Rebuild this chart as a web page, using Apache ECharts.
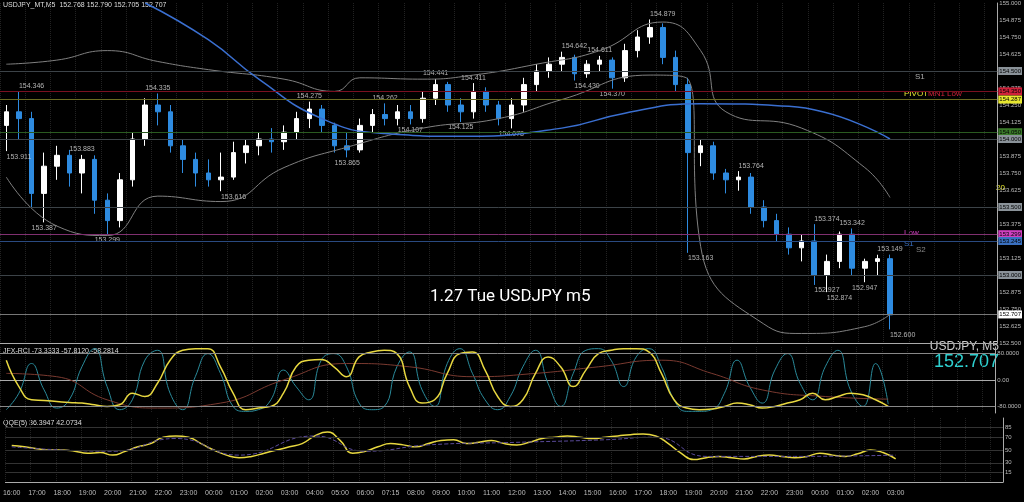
<!DOCTYPE html>
<html><head><meta charset="utf-8">
<script src="https://cdn.jsdelivr.net/npm/echarts@6/dist/echarts.min.js"></script>
<style>html,body{margin:0;background:#000}#c{width:1024px;height:502px}</style>
</head><body><div id="c"></div>
<script>
const times=["16:00","16:30","17:00","17:30","18:00","18:30","19:00","19:30","20:00","20:30","21:00","21:30","22:00","22:30","23:00","23:30","00:00","00:30","01:00","01:30","02:00","02:30","03:00","03:30","04:00","04:30","05:00","05:30","06:00","06:30","07:15","07:30","08:00","08:30","09:00","09:30","10:00","10:30","11:00","11:30","12:00","12:30","13:00","13:30","14:00","14:30","15:00","15:30","16:00","16:30","17:00","17:30","18:00","18:30","19:00","19:30","20:00","20:30","21:00","21:30","22:00","22:30","23:00","23:30","00:00","00:30","01:00","01:30","02:00","02:30","03:00","","","","","","","",""];
// [open, close, low, high]
const ohlc=[
[154.10,154.20,153.911,154.25],[154.20,154.15,154.00,154.346],[154.15,153.60,153.50,154.20],[153.60,153.80,153.387,153.90],
[153.80,153.88,153.70,153.95],[153.88,153.75,153.65,153.92],[153.75,153.85,153.60,153.883],[153.85,153.55,153.45,153.88],
[153.55,153.40,153.299,153.60],[153.40,153.70,153.35,153.75],[153.70,154.00,153.65,154.05],[154.00,154.25,153.95,154.30],
[154.25,154.20,154.10,154.335],[154.20,153.95,153.90,154.25],[153.95,153.85,153.75,154.00],[153.85,153.75,153.65,153.90],
[153.75,153.70,153.65,153.85],[153.70,153.72,153.616,153.90],[153.72,153.90,153.70,153.98],[153.90,153.95,153.82,154.00],
[153.95,154.00,153.88,154.05],[154.00,153.98,153.90,154.08],[153.98,154.05,153.92,154.10],[154.05,154.15,154.00,154.20],
[154.15,154.22,154.08,154.275],[154.22,154.10,154.05,154.25],[154.10,153.95,153.90,154.12],[153.95,153.92,153.865,154.05],
[153.92,154.10,153.90,154.15],[154.10,154.18,154.05,154.22],[154.18,154.15,154.10,154.262],[154.15,154.20,154.10,154.25],
[154.20,154.15,154.107,154.25],[154.15,154.30,154.12,154.35],[154.30,154.40,154.25,154.441],[154.40,154.25,154.20,154.42],
[154.25,154.20,154.125,154.30],[154.20,154.35,154.15,154.411],[154.35,154.25,154.20,154.38],[154.25,154.15,154.10,154.28],
[154.15,154.25,154.078,154.30],[154.25,154.40,154.20,154.45],[154.40,154.50,154.35,154.55],[154.50,154.55,154.45,154.60],
[154.55,154.60,154.50,154.642],[154.60,154.48,154.430,154.62],[154.48,154.55,154.45,154.58],[154.55,154.58,154.50,154.611],
[154.58,154.45,154.370,154.60],[154.45,154.65,154.42,154.70],[154.65,154.75,154.60,154.80],[154.75,154.82,154.70,154.879],
[154.82,154.60,154.55,154.85],[154.60,154.40,154.35,154.65],[154.40,153.90,153.163,154.45],[153.90,153.95,153.80,154.00],
[153.95,153.75,153.70,153.98],[153.75,153.70,153.60,153.78],[153.70,153.72,153.62,153.764],[153.72,153.50,153.45,153.75],
[153.50,153.40,153.35,153.55],[153.40,153.30,153.25,153.45],[153.30,153.20,153.15,153.35],[153.20,153.25,153.10,153.30],
[153.25,153.00,152.927,153.374],[153.00,153.10,152.874,153.15],[153.10,153.30,153.05,153.32],[153.30,153.05,153.00,153.342],
[153.05,153.10,152.947,153.12],[153.10,153.12,153.00,153.149],[153.12,152.707,152.600,153.15]];
const upperBand=[[0,154.55],[4,154.58],[8,154.65],[11.5,154.57],[15.5,154.51],[22,154.44],[25.9,154.35],[27.5,154.45],[33,154.44],[37,154.47],[41.8,154.55],[47.4,154.65],[52,154.86],[54.5,154.65],[57,154.2],[63.3,154.08],[68,153.79],[70,153.57]];
const lowerBand=[[0,153.72],[3.6,153.36],[7.6,153.29],[12.3,153.58],[17.1,153.54],[21.9,153.79],[26.7,153.94],[33,154.08],[39.4,154.15],[44.2,154.29],[50.6,154.47],[53.7,154.44],[55.3,153.21],[60.1,152.64],[63.3,152.57],[68,152.62],[70,152.71]];
const blueMA=[[10.7,155.0],[15.5,154.73],[20.3,154.44],[25.1,154.15],[29.9,154.04],[36.2,154.02],[44.2,154.08],[49,154.19],[54.5,154.26],[61.7,154.24],[70,154.0]];
const swingLabels=[[1.2,153.911,"b"],[1.8,154.346,"t"],[3.2,153.387,"b"],[6.4,153.883,"t"],[8.2,153.299,"b"],[12.3,154.335,"t"],[17.8,153.616,"b"],[24.3,154.275,"t"],[26.7,153.865,"b"],[30,154.262,"t"],[32.2,154.107,"b"],[34.2,154.441,"t"],[36.2,154.125,"b"],[37.4,154.411,"t"],[39.8,154.078,"b"],[44.6,154.642,"t"],[45.8,154.430,"b"],[47.4,154.611,"t"],[48,154.370,"b"],[51.7,154.879,"t"],[54.5,153.163,"b"],[58.5,153.764,"t"],[64.5,153.374,"t"],[64.5,152.927,"b"],[65.5,152.874,"b"],[67,153.342,"t"],[68,152.947,"b"],[69.7,153.149,"t"],[70.7,152.600,"b"]];
const levels=[[154.500,"#3c4348","#8a9299",""],[154.350,"#7a1020","#d0213a",""],[154.287,"#6a6a20","#e8e830",""],[154.050,"#2a5a20","#3a7a2a",""],[154.000,"#3c4348","#8a9299",""],[153.500,"#3c4348","#8a9299",""],[153.299,"#803070","#d040c0",""],[153.245,"#2a4a80","#3a70c0",""],[153.000,"#3c4348","#8a9299",""],[152.707,"#777777","#ffffff",""]];
const rciYellow=[60,-20,-60,-62,-65,-68,-70,-75,-80,-75,-40,-50,-10,60,90,95,95,40,-40,-90,-85,-80,-40,40,60,62,40,10,70,85,90,80,-20,-70,-60,20,80,85,30,-50,-80,-60,20,70,40,-20,30,80,90,95,95,85,20,-60,-85,-90,-88,-80,-70,-75,-85,-80,-70,-60,-40,-60,-50,-40,-45,-60,-80];
const rciTeal=[-90,-40,50,-30,-85,-60,40,95,-20,-90,-60,60,90,-40,-90,10,80,20,-80,-95,-90,-60,30,-20,-60,60,80,40,-70,-90,-80,40,85,-30,-80,50,95,20,-60,-90,-50,40,90,-10,-80,20,90,95,60,-20,70,95,40,-60,-95,-95,-90,-40,60,-20,-70,30,80,-10,-60,40,90,-30,-80,50,-73];
const rciBrown=[[0,20],[4,10],[8,-60],[12,-85],[17,-70],[22,0],[27,50],[32,40],[37,10],[42,20],[47,40],[52,60],[56,20],[60,-30],[65,-50],[70,-58]];
const qqeYellow=[57,55,52,50,50,48,45,46,42,48,55,60,70,72,70,60,50,42,38,40,45,50,55,60,72,78,65,45,48,55,60,58,55,60,65,66,60,62,65,60,58,62,68,70,72,70,68,70,72,74,75,72,60,45,35,38,40,38,36,40,42,40,38,40,45,42,40,44,50,46,36];
const qqeSignal=[[0,55],[8,48],[13,68],[18,42],[24,72],[28,48],[33,58],[40,62],[47,66],[51,70],[55,40],[62,40],[70,42]];

const chart=echarts.init(document.getElementById('c'));
const xBase=(gi,show)=>({type:'category',data:times,gridIndex:gi,boundaryGap:true,
  axisLine:{lineStyle:{color:'#aaa'}},axisTick:{show:false},
  axisLabel:{show:show,color:'#bbb',fontSize:7,interval:1},
  splitLine:{show:true,interval:1,lineStyle:{color:'#222',type:'dotted'}}});
const lineS=(data,color,xi,yi,w,type)=>({type:'line',data:data,xAxisIndex:xi,yAxisIndex:yi,symbol:'none',smooth:true,lineStyle:{color:color,width:w||1,type:type||'solid'},silent:true});
chart.setOption({
  backgroundColor:'#000',animation:false,
  grid:[{left:0,right:21,top:2,height:341},{left:0,right:21,top:347,height:66},{left:0,right:21,top:418,height:64}],
  xAxis:[xBase(0,false),xBase(1,false),xBase(2,true)],
  yAxis:[
    {type:'value',gridIndex:0,position:'right',min:152.5,max:155.0,interval:0.125,
     axisLine:{show:true,lineStyle:{color:'#aaa'}},axisLabel:{color:'#bbb',fontSize:6,margin:2,formatter:v=>v.toFixed(3)},splitLine:{show:false}},
    {type:'value',gridIndex:1,position:'right',min:-100,max:100,interval:20,
     axisLine:{show:true,lineStyle:{color:'#aaa'}},axisLabel:{color:'#bbb',fontSize:6,margin:2,formatter:v=>v===80?'80.0000':v===-80?'-80.0000':v===0?'0.00':''},
     splitLine:{show:false}},
    {type:'value',gridIndex:2,position:'right',min:0,max:100,interval:5,
     axisLine:{show:true,lineStyle:{color:'#aaa'}},axisLabel:{color:'#bbb',fontSize:6,margin:2,formatter:v=>[15,30,50,70,85].includes(v)?String(v):''},
     splitLine:{show:false}}
  ],
  series:[
    {type:'candlestick',data:ohlc,xAxisIndex:0,yAxisIndex:0,barWidth:'40%',
     itemStyle:{color:'#ffffff',color0:'#2e8be0',borderColor:'#ffffff',borderColor0:'#2e8be0'},
     markLine:{symbol:'none',silent:true,data:levels.map(l=>({yAxis:l[0],lineStyle:{color:l[1],width:1,type:'solid'},
        label:{show:true,position:'end',formatter:l[0].toFixed(3),color:'#000',backgroundColor:l[2],fontSize:6,padding:[1,1],distance:1}}))}},
    lineS(upperBand,'#808080',0,0,1),
    lineS(lowerBand,'#808080',0,0,1),
    lineS(blueMA,'#3a6fd0',0,0,1.5),
    {type:'scatter',data:swingLabels.map(s=>({value:[s[0],s[1]],label:{position:s[2]==='t'?'top':'bottom'}})),xAxisIndex:0,yAxisIndex:0,symbolSize:0,
     label:{show:true,color:'#ddd',fontSize:7,distance:2,formatter:p=>p.value[1].toFixed(3)},silent:true},
    {type:'line',data:rciTeal,xAxisIndex:1,yAxisIndex:1,symbol:'none',smooth:true,lineStyle:{color:'#2a8a9a',width:1},
     markLine:{symbol:'none',silent:true,label:{show:false},lineStyle:{color:'#888',type:'solid',width:1},data:[{yAxis:80},{yAxis:-80}]}},
    lineS(rciBrown,'#7a3a30',1,1,1),
    lineS(rciYellow,'#e8d840',1,1,1.5),
    {type:'line',data:qqeYellow,xAxisIndex:2,yAxisIndex:2,symbol:'none',smooth:true,lineStyle:{color:'#e8d840',width:1.5},
     markLine:{symbol:'none',silent:true,label:{show:false},lineStyle:{color:'#333',type:'solid',width:1},data:[{yAxis:85},{yAxis:70},{yAxis:50},{yAxis:30},{yAxis:15}]}},
    lineS(qqeSignal,'#5a4a9a',2,2,1,'dashed')
  ],
  graphic:[
    {type:'text',left:3,top:2,style:{text:'USDJPY_MT,M5  152.768 152.790 152.705 152.707',fill:'#ddd',fontSize:7}},
    {type:'text',left:430,top:288,style:{text:'1.27 Tue USDJPY m5',fill:'#fff',fontSize:17,fontFamily:'Roboto'}},
    {type:'text',left:3,top:348,style:{text:'JFX-RCI -73.3333 -57.8120 -58.2814',fill:'#ddd',fontSize:7}},
    {type:'text',left:3,top:420,style:{text:'QQE(5) 36.3947 42.0734',fill:'#ddd',fontSize:7}},
    {type:'text',right:25,top:341,style:{text:'USDJPY, M5',fill:'#ccc',fontSize:12,align:'right'}},
    {type:'text',right:25,top:353,style:{text:'152.707',fill:'#2ed0d0',fontSize:18,align:'right'}},
    {type:'text',left:904,top:90,style:{text:'PIVOT',fill:'#e8e830',fontSize:8}},
    {type:'text',left:928,top:90,style:{text:'MN1 Low',fill:'#d0213a',fontSize:8}},
    {type:'text',left:915,top:73,style:{text:'S1',fill:'#aaa',fontSize:8}},
    {type:'text',left:904,top:229,style:{text:'Low',fill:'#d040c0',fontSize:8}},
    {type:'text',left:904,top:240,style:{text:'S1',fill:'#3a70c0',fontSize:8}},
    {type:'text',left:916,top:246,style:{text:'S2',fill:'#888',fontSize:8}},
    {type:'text',left:996,top:184,style:{text:'20',fill:'#e8e830',fontSize:8}}
  ]
});
</script></body></html>
